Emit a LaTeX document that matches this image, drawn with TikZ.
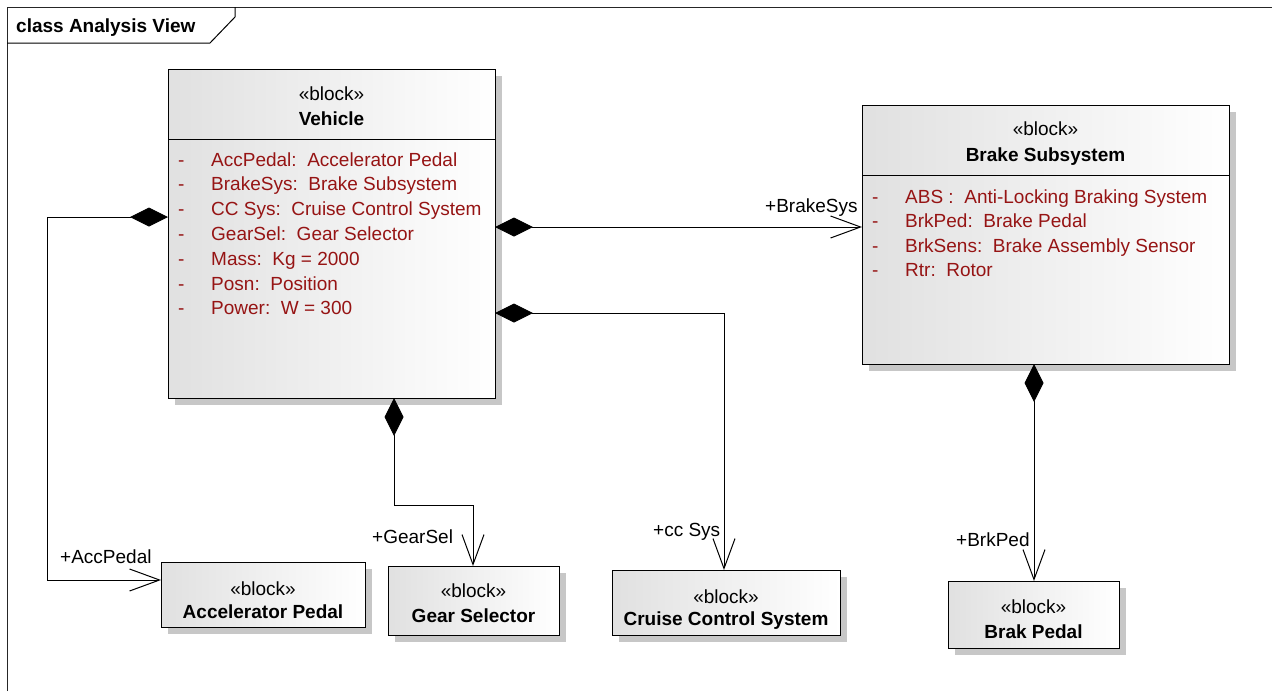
\documentclass[tikz,border=0pt]{standalone}
\usepackage{fontspec}
\setmainfont{Liberation Sans}
\usetikzlibrary{arrows.meta,calc,shadows}
\definecolor{attr}{RGB}{150,20,20}
\tikzset{
  txt/.style={font=\fontsize{19}{23}\selectfont, inner sep=0pt},
  btxt/.style={font=\fontsize{19}{23}\selectfont\bfseries, inner sep=0pt},
  atxt/.style={font=\fontsize{19}{23}\selectfont, text=attr, inner sep=0pt, anchor=base west},
  blockbox/.style={draw=black, line width=1pt, left color=black!12, right color=white,
    drop shadow={shadow xshift=7pt, shadow yshift=-7pt, fill=black!22, draw=none, opacity=1},
    inner sep=0pt, outer sep=0pt, anchor=north west},
  comp/.style={line width=1pt, {Diamond[length=38pt,width=19pt]}-{Straight Barb[length=30pt,width=22pt]}},
  sepline/.style={line width=1pt},
}
\newcommand{\attrline}[4]{%
  \node[atxt] at (#1,#3) {-};
  \node[atxt] at (#2,#3) {#4};}
\begin{document}
\begin{tikzpicture}[x=1pt,y=-1pt]
\useasboundingbox (0,0) rectangle (1272,691);
% frame
\draw[line width=1pt, black!85] (7,691) -- (7,7) -- (1272,7);
\draw[line width=1pt] (7,43) -- (210,43) -- (235,17) -- (235,7);
\node[btxt, anchor=base west] (title) at (16,32) {class Analysis View};

% blocks
\node[blockbox, minimum width=327pt, minimum height=329pt] (veh) at (168,69) {};
\node[blockbox, minimum width=367pt, minimum height=259pt] (brake) at (862,105) {};
\node[blockbox, minimum width=204pt, minimum height=65pt] (acc) at (161,562) {};
\node[blockbox, minimum width=171pt, minimum height=69pt] (gear) at (388,566) {};
\node[blockbox, minimum width=228pt, minimum height=65pt] (ccs) at (612,570) {};
\node[blockbox, minimum width=171pt, minimum height=67pt] (bp) at (948,581) {};

% compartment lines
\draw[sepline] ($(veh.north west)+(0,70)$) -- ($(veh.north east)+(0,70)$);
\draw[sepline] ($(brake.north west)+(0,70)$) -- ($(brake.north east)+(0,70)$);

% Vehicle texts
\node[txt, anchor=base] (vst) at (331.5,100) {«block»};
\node[btxt, anchor=base] (vnm) at (331.5,125) {Vehicle};
\attrline{178}{211}{166}{AccPedal:\ \ Accelerator Pedal}
\attrline{178}{211}{190.8}{BrakeSys:\ \ Brake Subsystem}
\attrline{178}{211}{215.6}{CC Sys:\ \ Cruise Control System}
\attrline{178}{211}{240.4}{GearSel:\ \ Gear Selector}
\attrline{178}{211}{265.2}{Mass:\ \ Kg = 2000}
\attrline{178}{211}{290}{Posn:\ \ Position}
\attrline{178}{211}{314.8}{Power:\ \ W = 300}

% Brake Subsystem texts
\node[txt, anchor=base] (bst) at (1045.5,135) {«block»};
\node[btxt, anchor=base] (bnm) at (1045.5,161) {Brake Subsystem};
\attrline{872}{905}{203}{ABS :\ \ Anti-Locking Braking System}
\attrline{872}{905}{227.6}{BrkPed:\ \ Brake Pedal}
\attrline{872}{905}{252.2}{BrkSens:\ \ Brake Assembly Sensor}
\attrline{872}{905}{276.8}{Rtr:\ \ Rotor}

% small blocks texts
\node[txt, anchor=base] (ast) at (263,595) {«block»};
\node[btxt, anchor=base] (anm) at (263,618) {Accelerator Pedal};
\node[txt, anchor=base] (gst) at (473.5,597) {«block»};
\node[btxt, anchor=base] (gnm) at (473.5,622) {Gear Selector};
\node[txt, anchor=base] (cst) at (726,603) {«block»};
\node[btxt, anchor=base] (cnm) at (726,625) {Cruise Control System};
\node[txt, anchor=base] (pst) at (1033.5,613) {«block»};
\node[btxt, anchor=base] (pnm) at (1033.5,638) {Brak Pedal};

% connectors
\draw[comp] ($(veh.north west)+(0,148)$) -- ++(-121,0) |- ($(acc.north west)+(0,18)$);
\draw[comp] ($(veh.north east)+(0,158)$) -- ($(brake.north west)+(0,122)$);
\draw[comp] ($(veh.north east)+(0,244)$) -| ($(ccs.north west)+(112,0)$);
\draw[comp] ($(veh.south west)+(226,0)$) -- ++(0,107) -| ($(gear.north west)+(85,0)$);
\draw[comp] ($(brake.south west)+(172,0)$) -- ($(bp.north west)+(86,0)$);

% role labels
\node[txt, anchor=base west] (lacc) at (60,563) {+AccPedal};
\node[txt, anchor=base west] (lbrk) at (765,212) {+BrakeSys};
\node[txt, anchor=base west] (lcc) at (653,536) {+cc Sys};
\node[txt, anchor=base west] (lgear) at (372,543) {+GearSel};
\node[txt, anchor=base west] (lbp) at (956,546) {+BrkPed};
\end{tikzpicture}
\end{document}
